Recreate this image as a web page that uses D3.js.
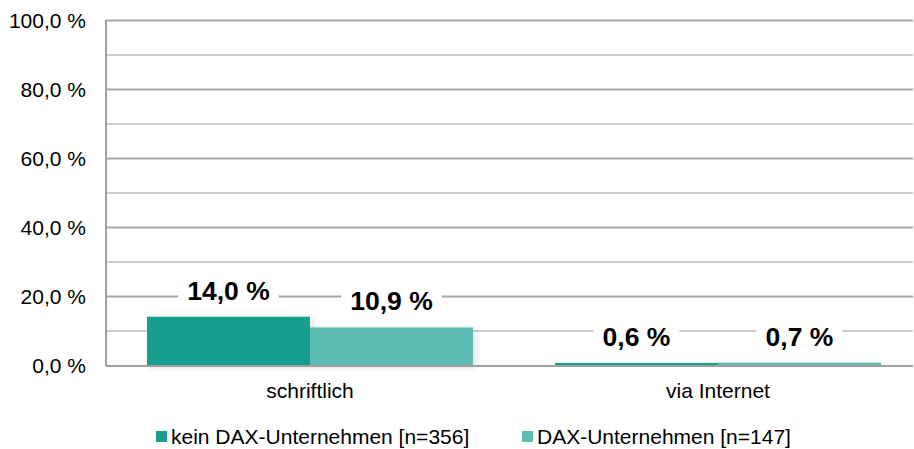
<!DOCTYPE html>
<html>
<head>
<meta charset="utf-8">
<script src="https://cdn.jsdelivr.net/npm/d3@7"></script>
<style>
  body { margin: 0; background: #fff; }
  text { font-family: "Liberation Sans", Arial, sans-serif; }
</style>
</head>
<body>
<div class="canvas"></div>
<script>
const categories = ['schriftlich', 'via Internet']
const seriesNames = ['kein DAX-Unternehmen [n=356]', 'DAX-Unternehmen [n=147]']
const seriesColors = ['#169e8f', '#5dbdb2']
const keinDax = [14.0, 0.6]
const dax = [10.9, 0.7]
const yTicks = [0, 20, 40, 60, 80, 100]
const yGrid = [10, 20, 30, 40, 50, 60, 70, 80, 90, 100]

const fmt = v => v.toFixed(1).replace('.', ',') + ' %'

const width = 914, height = 449
const svg = d3.select('.canvas').append('svg')
  .attr('width', width)
  .attr('height', height)

const plotLeft = 106, plotTop = 20, plotBottom = 365, plotRight = 913

// soft shadow under the bars
const filter = svg.append('defs').append('filter')
  .attr('id', 'shadow')
  .attr('x', '-10%').attr('y', '-10%')
  .attr('width', '130%').attr('height', '130%')
filter.append('feDropShadow')
  .attr('dx', 3).attr('dy', 3)
  .attr('stdDeviation', 3)
  .attr('flood-color', '#000')
  .attr('flood-opacity', 0.12)

const y = d3.scaleLinear()
  .domain([0, 100])
  .range([plotBottom, plotTop])

const x = d3.scaleBand()
  .domain(categories)
  .range([plotLeft, 922])

const xs = d3.scaleBand()
  .domain([0, 1])
  .range([41, 367])

// gridlines
svg.append('g').selectAll('line')
  .data(yGrid)
  .enter().append('line')
  .attr('x1', plotLeft)
  .attr('x2', plotRight)
  .attr('y1', d => y(d) + 0.5)
  .attr('y2', d => y(d) + 0.5)
  .attr('stroke', d => d % 20 === 0 ? '#a6a6a6' : '#cccccc')
  .attr('stroke-width', 2)

// bars
const groups = svg.append('g').selectAll('g')
  .data(categories)
  .enter().append('g')
  .attr('transform', d => `translate(${x(d)},0)`)

const rows = categories.map((c, i) => [keinDax[i], dax[i]])

groups.append('g')
  .attr('filter', 'url(#shadow)')
  .selectAll('rect')
  .data((d, i) => rows[i])
  .enter().append('rect')
  .attr('x', (d, j) => xs(j))
  .attr('width', xs.bandwidth())
  .attr('y', d => y(d))
  .attr('height', d => plotBottom - y(d))
  .attr('fill', (d, j) => seriesColors[j])

// value labels with white background
groups.each(function (c, i) {
  const g = d3.select(this)
  rows[i].forEach((v, j) => {
    const cx = xs(j) + xs.bandwidth() / 2
    const t = g.append('text')
      .attr('x', cx)
      .attr('y', y(v) - 17)
      .attr('text-anchor', 'middle')
      .attr('font-size', 26.5)
      .attr('font-weight', 'bold')
      .attr('fill', '#000')
      .text(fmt(v))
    const bb = t.node().getBBox()
    g.insert('rect', () => t.node())
      .attr('x', bb.x - 9)
      .attr('y', bb.y)
      .attr('width', bb.width + 18)
      .attr('height', bb.height)
      .attr('fill', '#fff')
  })
})

// axes
svg.append('line')
  .attr('x1', plotLeft).attr('x2', plotLeft)
  .attr('y1', plotTop).attr('y2', plotBottom + 1)
  .attr('stroke', '#a0a0a0').attr('stroke-width', 2)
svg.append('line')
  .attr('x1', plotLeft).attr('x2', plotRight)
  .attr('y1', plotBottom + 1).attr('y2', plotBottom + 1)
  .attr('stroke', '#a0a0a0').attr('stroke-width', 2)

svg.append('g').selectAll('text')
  .data(yTicks)
  .enter().append('text')
  .attr('x', 86)
  .attr('y', d => y(d) + 7.5)
  .attr('text-anchor', 'end')
  .attr('font-size', 21)
  .attr('fill', '#000')
  .text(d => fmt(d))

svg.append('g').selectAll('text')
  .data(categories)
  .enter().append('text')
  .attr('x', d => x(d) + x.bandwidth() / 2)
  .attr('y', 398)
  .attr('text-anchor', 'middle')
  .attr('font-size', 21)
  .attr('fill', '#000')
  .text(d => d)

// legend
const legendX = [156, 522]
const legend = svg.append('g').selectAll('g')
  .data(seriesNames)
  .enter().append('g')
  .attr('transform', (d, i) => `translate(${legendX[i]},431)`)
legend.append('rect')
  .attr('width', 11).attr('height', 11)
  .attr('fill', (d, i) => seriesColors[i])
legend.append('text')
  .attr('x', 15).attr('y', 12.5)
  .attr('font-size', 21)
  .attr('fill', '#000')
  .text(d => d)
</script>
</body>
</html>
